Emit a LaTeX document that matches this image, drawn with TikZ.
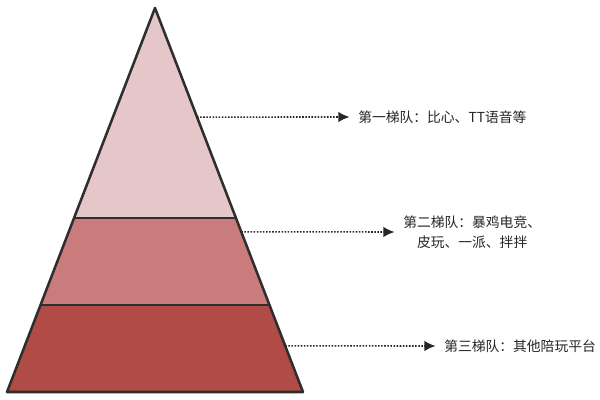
\documentclass[tikz,border=0pt]{standalone}
\usepackage{fontspec}
\setmainfont{Noto Sans CJK SC}
\usetikzlibrary{arrows.meta, calc, positioning}
\definecolor{tierone}{HTML}{E6C7C9}
\definecolor{tiertwo}{HTML}{C97C7B}
\definecolor{tierthree}{HTML}{B04B46}
\definecolor{edgegray}{HTML}{2E2E2E}
\tikzset{%
	layer/.style = {
		draw=edgegray, line width=1.8pt, line join=round
	},
	pointer/.style = {
		-{Latex[length=8pt, width=7.5pt]}, line width=1.1pt, draw=black!85,
		dash pattern=on 1.1pt off 1.1pt
	},
	tier/.style = {
		anchor=west, inner sep=0pt, font=\fontsize{9.8pt}{14.5pt}\selectfont,
		text=black!85, align=center
	}
}
\begin{document}
\begin{tikzpicture}[x=0.025cm, y=-0.025cm]
    \useasboundingbox (0,0) rectangle (600,400);
    % Corners of the pyramid
    \coordinate (apex) at (155,8);
    \coordinate (bl)   at (7,392);
    \coordinate (br)   at (303,392);
    \coordinate (ml)   at ($(apex)!0.547!(bl)$);
    \coordinate (mr)   at ($(apex)!0.547!(br)$);
    \coordinate (ll)   at ($(apex)!0.773!(bl)$);
    \coordinate (lr)   at ($(apex)!0.773!(br)$);

    % Layers
    \fill[tierthree]   (ll) -- (lr) -- (br) -- (bl) -- cycle;
    \fill[tiertwo]     (ml) -- (mr) -- (lr) -- (ll) -- cycle;
    \fill[tierone]     (apex) -- (mr) -- (ml) -- cycle;
    \draw[layer]       (ml) -- (mr);
    \draw[layer]       (ll) -- (lr);
    \draw[layer]       (apex) -- (br) -- (bl) -- cycle;

    % Specification of labels
    \node (first)  [tier] at (358,117) {第一梯队：比心、TT语音等};
    \node (second) [tier] at (403,232) {第二梯队：暴鸡电竞、\\皮玩、一派、拌拌};
    \node (third)  [tier] at (444,346) {第三梯队：其他陪玩平台};

    \coordinate (p1) at ($(apex)!0.284!(br)$);
    \coordinate (p2) at ($(apex)!0.583!(br)$);
    \coordinate (p3) at ($(apex)!0.880!(br)$);

    \draw[pointer]     (p1) -- ([xshift=-6pt]first.west);
    \draw[pointer]     (p2) -- ([xshift=-6pt]second.west);
    \draw[pointer]     (p3) -- ([xshift=-6pt]third.west);

\end{tikzpicture}
\end{document}
